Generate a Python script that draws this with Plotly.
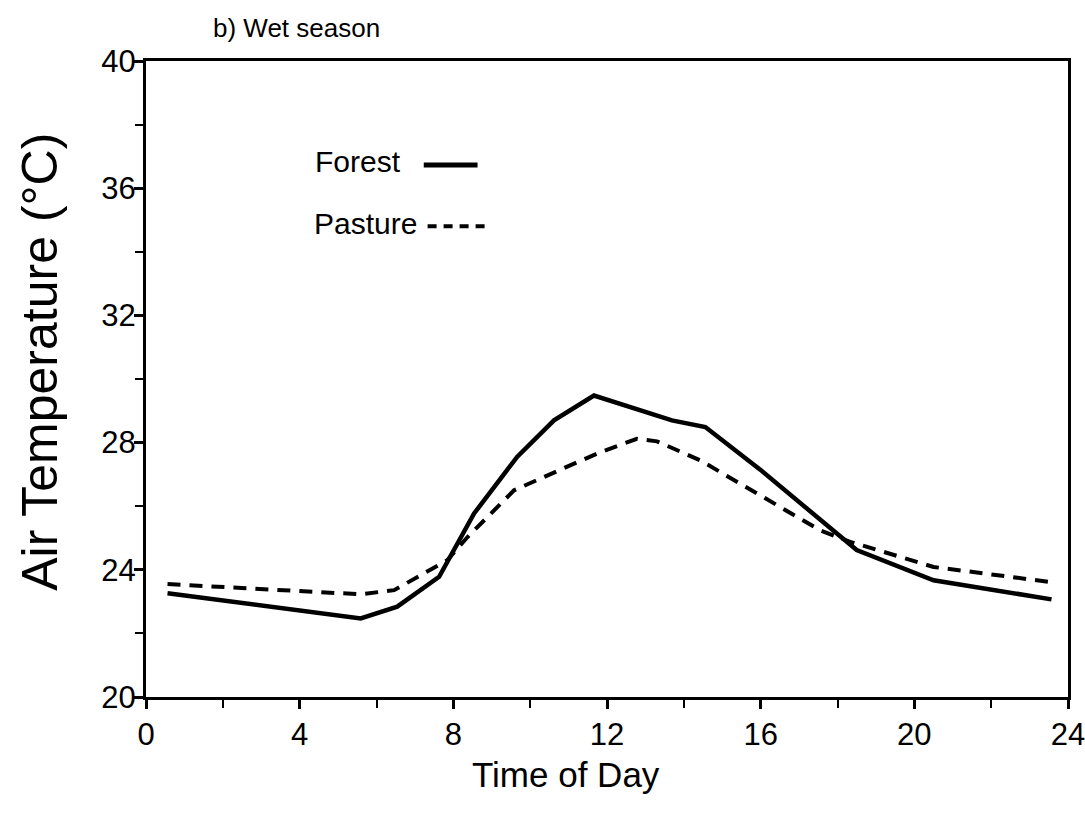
import plotly.graph_objects as go

# Forest (solid) series
forest_hour = [0.56, 5.59, 6.54, 7.63, 8.54, 9.66, 10.62, 11.66, 13.69, 14.56, 15.99, 18.5, 20.5, 23.57]
forest_temp = [23.26, 22.47, 22.84, 23.78, 25.77, 27.55, 28.70, 29.48, 28.70, 28.49, 27.15, 24.62, 23.67, 23.07]

# Pasture (dashed) series
pasture_hour = [0.56, 5.59, 6.46, 7.84, 8.37, 9.58, 10.79, 11.83, 12.78, 13.3, 14.43, 17.55, 18.33, 20.5, 23.7]
pasture_temp = [23.55, 23.23, 23.36, 24.30, 25.03, 26.5, 27.15, 27.7, 28.12, 28.04, 27.44, 25.24, 24.88, 24.09, 23.59]

x_ticks = [0, 4, 8, 12, 16, 20, 24]
y_ticks = [20, 24, 28, 32, 36, 40]

FONT = "Liberation Sans, Arial, Helvetica, sans-serif"

fig = go.Figure()
fig.add_trace(go.Scatter(x=forest_hour, y=forest_temp, mode="lines", name="Forest",
                         line=dict(color="black", width=4.5), showlegend=False))
fig.add_trace(go.Scatter(x=pasture_hour, y=pasture_temp, mode="lines", name="Pasture",
                         line=dict(color="black", width=4, dash="13px,9px"), showlegend=False))

# Legend-like labels (text precedes the line sample)
fig.add_annotation(x=6.68, y=36.84, xref="x", yref="y", text="Forest", showarrow=False,
                   xanchor="right", yanchor="middle", font=dict(size=30, color="black", family=FONT))
fig.add_shape(type="line", x0=7.23, x1=8.63, y0=36.73, y1=36.73, xref="x", yref="y",
              line=dict(color="black", width=5))
fig.add_annotation(x=7.1, y=34.9, xref="x", yref="y", text="Pasture", showarrow=False,
                   xanchor="right", yanchor="middle", font=dict(size=30, color="black", family=FONT))
fig.add_shape(type="line", x0=7.33, x1=8.84, y0=34.8, y1=34.8, xref="x", yref="y",
              line=dict(color="black", width=4, dash="9px,7px"))

# Axis titles
fig.add_annotation(x=-0.115, y=0.527, xref="paper", yref="paper", text="Air Temperature (°C)",
                   showarrow=False, textangle=-90, xanchor="center", yanchor="middle",
                   font=dict(size=50, color="black", family=FONT))
fig.add_annotation(x=0.4555, y=-0.1226, xref="paper", yref="paper", text="Time of Day",
                   showarrow=False, xanchor="center", yanchor="middle",
                   font=dict(size=35, color="black", family=FONT))

fig.update_layout(
    width=1085, height=820,
    margin=dict(l=146, r=17, t=61, b=123),
    paper_bgcolor="white", plot_bgcolor="white",
    font=dict(family=FONT, color="black", size=30),
    title=dict(text="b) Wet season", x=213/1085, xanchor="left", y=1 - 28/820, yanchor="middle",
               font=dict(size=26, family=FONT, color="black")),
    xaxis=dict(range=[0, 24], tickvals=x_ticks, ticktext=[str(v) for v in x_ticks],
               showgrid=False, zeroline=False, showline=True, linecolor="black", linewidth=3,
               mirror=True, ticks="outside", ticklen=9, tickwidth=2.5, tickcolor="black",
               minor=dict(dtick=2, ticks="outside", ticklen=8, tickwidth=2, tickcolor="black"),
               tickfont=dict(size=31, family=FONT), ticklabelstandoff=-1, automargin=False,
               ticklabeloverflow="allow"),
    yaxis=dict(range=[20, 40], tickvals=y_ticks, ticktext=[str(v) for v in y_ticks],
               showgrid=False, zeroline=False, showline=True, linecolor="black", linewidth=3,
               mirror=True, ticks="outside", ticklen=9, tickwidth=2.5, tickcolor="black",
               minor=dict(dtick=2, ticks="outside", ticklen=8, tickwidth=2, tickcolor="black"),
               tickfont=dict(size=31, family=FONT), ticklabelstandoff=-8, automargin=False,
               ticklabeloverflow="allow"),
)

fig.write_html("out.html", config={"displayModeBar": False},
               post_script="document.body.style.margin='0';document.body.style.overflow='hidden';")
